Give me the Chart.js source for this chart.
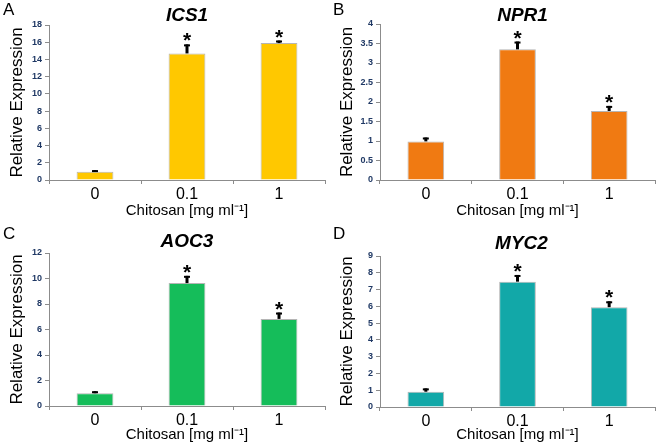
<!DOCTYPE html>
<html>
<head>
<meta charset="utf-8">
<script src="https://cdn.jsdelivr.net/npm/chart.js@4.4.0/dist/chart.umd.min.js"></script>
<style>
  body { margin: 0; background: #fff; }
  #wrap { position: relative; width: 660px; height: 448px; }
  .panel { position: absolute; width: 330px; height: 224px; }
</style>
</head>
<body>
<div id="wrap">
  <div class="panel" style="left:0;top:0"><canvas id="cA" width="330" height="224"></canvas></div>
  <div class="panel" style="left:330px;top:0"><canvas id="cB" width="330" height="224"></canvas></div>
  <div class="panel" style="left:0;top:224px"><canvas id="cC" width="330" height="224"></canvas></div>
  <div class="panel" style="left:330px;top:224px"><canvas id="cD" width="330" height="224"></canvas></div>
</div>
<script>
const categories = ['0', '0.1', '1'];
const significant = [false, true, true];

const ics1Mean = [0.95, 14.7, 15.9];
const ics1Err = [0.2, 1.05, 0.3];
const npr1Mean = [0.99, 3.35, 1.77];
const npr1Err = [0.1, 0.2, 0.13];
const aoc3Mean = [1.0, 9.64, 6.83];
const aoc3Err = [0.16, 0.57, 0.5];
const myc2Mean = [0.91, 7.47, 5.95];
const myc2Err = [0.2, 0.4, 0.35];

const FONT = "'Liberation Sans', Arial, sans-serif";

// error bars, asterisks, panel letter and gene title
const decor = {
    id: 'decor',
    afterDatasetsDraw(chart, args, opts) {
        const ctx = chart.ctx;
        const y = chart.scales.y;
        const meta = chart.getDatasetMeta(0);
        ctx.save();
        ctx.strokeStyle = '#000';
        ctx.fillStyle = '#000';
        meta.data.forEach((bar, i) => {
            const top = y.getPixelForValue(opts.mean[i]);
            const errTop = y.getPixelForValue(opts.mean[i] + opts.err[i]);
            ctx.lineWidth = 3;
            ctx.beginPath();
            ctx.moveTo(bar.x, top);
            ctx.lineTo(bar.x, errTop);
            ctx.stroke();
            ctx.lineWidth = 2;
            ctx.beginPath();
            ctx.moveTo(bar.x - 3, errTop + 1);
            ctx.lineTo(bar.x + 3, errTop + 1);
            ctx.stroke();
            if (significant[i]) {
                ctx.font = 'bold 21px ' + FONT;
                ctx.textAlign = 'center';
                ctx.textBaseline = 'alphabetic';
                ctx.fillText('*', bar.x, errTop + 3);
            }
        });
        ctx.font = '17px ' + FONT;
        ctx.textAlign = 'left';
        ctx.textBaseline = 'top';
        ctx.fillText(opts.letter, 3, 2);
        ctx.font = 'italic bold 19px ' + FONT;
        ctx.textAlign = 'center';
        ctx.textBaseline = 'middle';
        const a = chart.chartArea;
        ctx.fillText(opts.title, (a.left + a.right) / 2 + opts.titleDx, opts.titleY);
        ctx.restore();
    }
};

function drawPanel(id, p) {
    const ctx = document.getElementById(id).getContext('2d');
    new Chart(ctx, {
        type: 'bar',
        data: {
            labels: categories,
            datasets: [{
                data: p.mean,
                backgroundColor: p.color,
                borderColor: 'rgba(150,150,150,0.7)',
                borderWidth: 1,
                barPercentage: 0.8,
                categoryPercentage: 0.5
            }]
        },
        options: {
            responsive: false,
            animation: false,
            events: [],
            layout: { padding: { top: p.top, right: 5, left: 0, bottom: 0 } },
            plugins: {
                legend: { display: false },
                tooltip: { enabled: false },
                decor: { mean: p.mean, err: p.err, letter: p.letter, title: p.title, titleY: p.titleY, titleDx: p.titleDx }
            },
            scales: {
                x: {
                    afterFit: s => { s.height = p.xh; },
                    grid: { display: true, drawOnChartArea: false, offset: true, tickLength: 4, color: '#8c8c8c' },
                    border: { color: '#8c8c8c' },
                    ticks: { color: '#000', font: { family: FONT, size: 16 }, padding: 1 },
                    title: { display: true, text: 'Chitosan [mg ml\u207B\u00B9]', color: '#000', font: { family: FONT, size: 15 }, padding: { top: 0, bottom: 4 } }
                },
                y: {
                    min: 0,
                    max: p.max,
                    afterFit: s => { s.width = p.yw; },
                    grid: { display: true, drawOnChartArea: false, tickLength: 4, color: '#8c8c8c' },
                    border: { color: '#8c8c8c' },
                    ticks: { stepSize: p.step, color: '#1f3864', font: { family: FONT, size: 9, weight: 'bold' }, padding: 3,
                             callback: v => String(Number(v)) },
                    title: { display: true, text: 'Relative Expression', color: '#000', font: { family: FONT, size: 17 }, padding: { top: 7, bottom: 0 } }
                }
            }
        },
        plugins: [decor]
    });
}

drawPanel('cA', { letter: 'A', title: 'ICS1', mean: ics1Mean, err: ics1Err, max: 18, step: 2, color: '#FFC800', top: 25, xh: 44, yw: 49, titleY: 16, titleDx: 0 });
drawPanel('cB', { letter: 'B', title: 'NPR1', mean: npr1Mean, err: npr1Err, max: 4, step: 0.5, color: '#F07A12', top: 24, xh: 44, yw: 50, titleY: 16, titleDx: 5 });
drawPanel('cC', { letter: 'C', title: 'AOC3', mean: aoc3Mean, err: aoc3Err, max: 12, step: 2, color: '#15BD5A', top: 29, xh: 42, yw: 49, titleY: 18, titleDx: 0 });
drawPanel('cD', { letter: 'D', title: 'MYC2', mean: myc2Mean, err: myc2Err, max: 9, step: 1, color: '#12A8A8', top: 32, xh: 41, yw: 50, titleY: 20, titleDx: 4 });
</script>
</body>
</html>
